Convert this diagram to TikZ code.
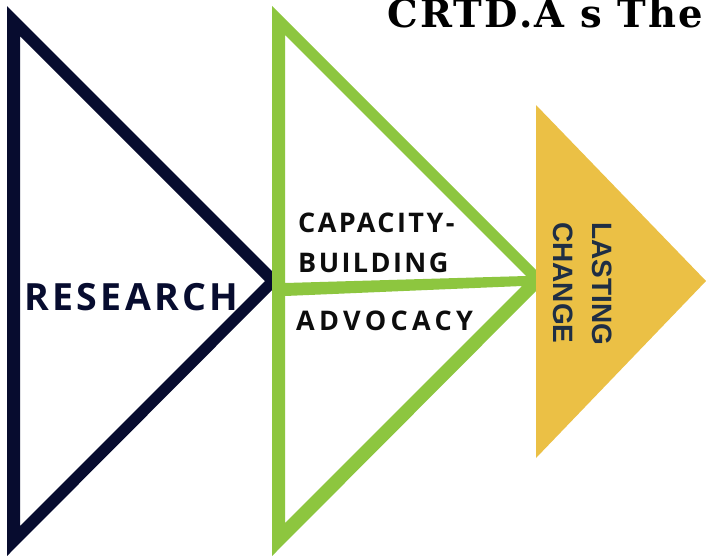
\documentclass[tikz,border=0pt]{standalone}
\usepackage{fontspec}
\setmainfont{DejaVu Serif}
\newfontfamily\labelfont{Open Sans}[LetterSpace=9]
\newfontfamily\widelabelfont{Open Sans}[LetterSpace=16]
\newfontfamily\titlefont{DejaVu Serif}[LetterSpace=6]
\newfontfamily\arialfont{Liberation Sans}
\definecolor{navy}{HTML}{070C2F}
\definecolor{leaf}{HTML}{8DC63F}
\definecolor{gold}{HTML}{EBC045}
\definecolor{slate}{HTML}{1F2E44}
\definecolor{ink}{HTML}{0D0D0D}
\tikzset{
  steplabel/.style={inner sep=0pt, anchor=base west},
  headline/.style={inner sep=0pt, font=\titlefont\bfseries\fontsize{38.5}{42}\selectfont},
}
\begin{document}
\begin{tikzpicture}[x=1pt, y=-1pt]
\useasboundingbox (0,0) rectangle (706,555);
\clip (0,0) rectangle (706,555);
\fill[white] (0,0) rectangle (706,555);

% title, running off the right edge
\node[headline, anchor=base west] (title) at (387,27) {CRTD.A s The};

% research: dark outlined arrow
\fill[navy, even odd rule]
  (7,6) -- (281.5,280.5) -- (7,556) -- cycle
  (20,36) -- (265,281) -- (20,526) -- cycle;

% capacity-building / advocacy: green outlined arrow split by a bar
\fill[leaf, even odd rule]
  (272,6) -- (546.5,280.5) -- (272,556) -- cycle
  (285,35) -- (526,276) -- (285,283) -- cycle
  (285,296) -- (522,286) -- (285,523) -- cycle;

% lasting change: solid gold arrow
\fill[gold] (536,105) -- (706,281) -- (536,458) -- cycle;

% labels
\node[steplabel, text=navy, font=\labelfont\bfseries\fontsize{37.5}{40}\selectfont]
  (research) at (24,310) {RESEARCH};
\node[steplabel, text=ink, font=\labelfont\bfseries\fontsize{27}{30}\selectfont]
  (capacity) at (298,232) {CAPACITY-};
\node[steplabel, text=ink, font=\labelfont\bfseries\fontsize{27}{30}\selectfont]
  (building) at (298,272) {BUILDING};
\node[steplabel, text=ink, font=\widelabelfont\bfseries\fontsize{27}{30}\selectfont]
  (advocacy) at (296,330) {ADVOCACY};
\node[steplabel, text=slate, rotate=-90, font=\arialfont\bfseries\fontsize{28}{30}\selectfont]
  (lasting) at (592,222) {LASTING};
\node[steplabel, text=slate, rotate=-90, font=\arialfont\bfseries\fontsize{28}{30}\selectfont]
  (change) at (553,222) {CHANGE};
\end{tikzpicture}
\end{document}
